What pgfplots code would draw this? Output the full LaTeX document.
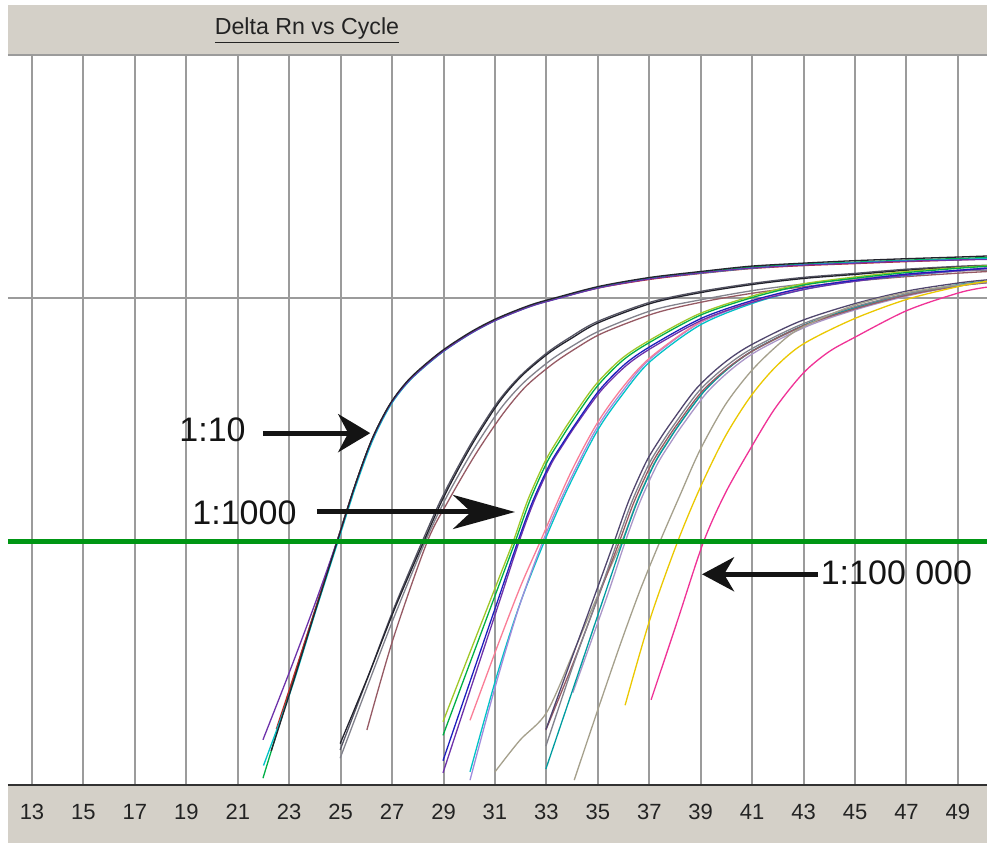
\documentclass[border=0pt]{standalone}
\usepackage{fontspec}
\setmainfont{Liberation Sans}
\usepackage{pgfplots}
\pgfplotsset{compat=1.18}
\usetikzlibrary{arrows.meta}
\definecolor{panel}{RGB}{212,208,200}
\definecolor{gridc}{RGB}{155,155,155}
\definecolor{tickc}{RGB}{35,35,35}
\definecolor{axc}{RGB}{50,50,50}
\definecolor{thr}{RGB}{0,150,20}
\definecolor{arrc}{RGB}{20,20,20}
\definecolor{cgreen}{RGB}{0,175,70}
\definecolor{cblue}{RGB}{30,30,190}
\definecolor{cpurple}{RGB}{110,50,170}
\definecolor{cblack}{RGB}{35,35,45}
\definecolor{cred}{RGB}{190,40,40}
\definecolor{ccyan}{RGB}{0,195,200}
\definecolor{cdgray}{RGB}{85,85,100}
\definecolor{cgray}{RGB}{130,130,140}
\definecolor{cbrown}{RGB}{150,90,100}
\definecolor{clime}{RGB}{160,200,40}
\definecolor{cpink}{RGB}{250,125,150}
\definecolor{clav}{RGB}{160,140,220}
\definecolor{cdpur}{RGB}{80,70,110}
\definecolor{clpur}{RGB}{170,150,200}
\definecolor{cbeige}{RGB}{165,160,140}
\definecolor{cyellow}{RGB}{235,200,0}
\definecolor{cmag}{RGB}{240,50,150}
\begin{document}
\begin{tikzpicture}
\fill[white] (-4pt,-29pt) rectangle (489.5pt,392.5pt);
\fill[panel] (0,-29pt) rectangle (489.5pt,0);
\fill[panel] (0,365pt) rectangle (489.5pt,390pt);
\draw[line width=0.8pt, color=gridc] (0,365pt) -- (489.5pt,365pt);
\begin{axis}[at={(0,0)}, anchor=south west, scale only axis,
  width=489.5pt, height=365pt,
  xmin=12.067, xmax=50.13, ymin=-1, ymax=0.5,
  axis line style={draw=none},
  xtick={13,15,...,49}, ytick={0}, yticklabels={},
  tick style={draw=none},
  grid=major, major grid style={line width=1pt, color=gridc},
  xticklabel style={font=\fontsize{11}{12}\selectfont, text=tickc, anchor=center, yshift=-13.5pt},
  /pgf/number format/assume math mode=true,
  every axis plot/.append style={line width=0.65pt, smooth, no markers},
  clip=true]
% ---- 1:10 group
\addplot[cgreen] coordinates {(21.98,-0.986) (23.03,-0.805) (24.00,-0.641) (24.86,-0.499) (25.56,-0.384) (26.22,-0.290) (26.92,-0.218) (27.70,-0.166) (28.86,-0.113) (30.03,-0.072) (31.08,-0.043) (32.36,-0.016) (33.41,0.000) (35.08,0.023) (37.03,0.041) (38.97,0.053) (40.92,0.064) (42.86,0.070) (44.80,0.074) (46.75,0.078) (49.08,0.082) (50.13,0.084)};
\addplot[cred] coordinates {(22.50,-0.885) (23.03,-0.800) (24.00,-0.641) (24.86,-0.499) (25.56,-0.384) (26.22,-0.290) (26.92,-0.218) (27.70,-0.166) (28.86,-0.113) (30.03,-0.072) (31.08,-0.043) (32.36,-0.016) (33.41,0.000) (35.08,0.022) (37.03,0.039) (38.97,0.051) (40.92,0.061) (42.86,0.067) (44.80,0.071) (46.75,0.075) (49.08,0.079) (50.13,0.081)};
\addplot[ccyan] coordinates {(22.00,-0.960) (23.07,-0.805) (24.04,-0.641) (24.90,-0.499) (25.60,-0.384) (26.26,-0.290) (26.96,-0.218) (27.74,-0.166) (28.90,-0.113) (30.07,-0.072) (31.12,-0.043) (32.40,-0.016) (33.45,0.000) (35.12,0.023) (37.07,0.041) (39.01,0.052) (40.96,0.062) (42.90,0.069) (44.84,0.073) (46.79,0.077) (49.12,0.080) (50.13,0.082)};
\addplot[cpurple] coordinates {(21.98,-0.907) (23.03,-0.765) (24.00,-0.628) (24.86,-0.499) (25.56,-0.385) (26.22,-0.291) (26.92,-0.219) (27.70,-0.167) (28.86,-0.114) (30.03,-0.073) (31.08,-0.044) (32.36,-0.017) (33.41,-0.001) (35.08,0.022) (37.03,0.040) (38.97,0.052) (40.92,0.062) (42.86,0.068) (44.80,0.072) (46.75,0.076) (49.08,0.079) (50.13,0.080)};
\addplot[cblack] coordinates {(22.30,-0.930) (23.03,-0.810) (24.00,-0.645) (24.86,-0.501) (25.56,-0.384) (26.22,-0.289) (26.92,-0.217) (27.70,-0.164) (28.86,-0.111) (30.03,-0.070) (31.08,-0.041) (32.36,-0.014) (33.41,0.002) (35.08,0.025) (37.03,0.043) (38.97,0.055) (40.92,0.066) (42.86,0.072) (44.80,0.077) (46.75,0.081) (49.08,0.085) (50.13,0.087)};
% ---- 1:100 group
\addplot[cgray] coordinates {(24.98,-0.945) (26.02,-0.800) (27.04,-0.660) (28.28,-0.501) (29.10,-0.410) (30.15,-0.312) (31.20,-0.228) (32.10,-0.174) (33.14,-0.128) (34.04,-0.097) (35.10,-0.066) (37.15,-0.024) (39.10,-0.002) (41.15,0.017) (43.10,0.030) (45.00,0.040) (47.10,0.049) (49.10,0.056) (50.13,0.058)};
\addplot[cbrown] coordinates {(26.02,-0.887) (27.04,-0.700) (28.36,-0.501) (29.20,-0.415) (30.25,-0.320) (31.30,-0.238) (32.20,-0.181) (33.24,-0.135) (34.14,-0.103) (35.20,-0.071) (37.25,-0.030) (39.20,-0.006) (41.20,0.012) (43.20,0.025) (45.10,0.036) (47.10,0.045) (49.10,0.052) (50.13,0.055)};
\addplot[cdgray] coordinates {(24.98,-0.928) (26.02,-0.784) (27.04,-0.641) (28.16,-0.501) (28.98,-0.405) (30.03,-0.302) (31.08,-0.215) (31.97,-0.160) (33.02,-0.112) (33.92,-0.080) (34.97,-0.048) (37.03,-0.008) (38.97,0.014) (41.03,0.031) (42.98,0.043) (44.92,0.051) (47.02,0.060) (49.08,0.066) (50.13,0.068)};
\addplot[cblack] coordinates {(24.98,-0.915) (26.08,-0.775) (27.10,-0.638) (28.22,-0.501) (29.04,-0.405) (30.09,-0.302) (31.14,-0.215) (32.03,-0.160) (33.08,-0.113) (33.98,-0.082) (35.03,-0.050) (37.09,-0.010) (39.03,0.012) (41.09,0.029) (43.04,0.041) (44.98,0.049) (47.08,0.058) (49.14,0.064) (50.13,0.066)};
% ---- 1:1000 group
\addplot[ccyan] coordinates {(30.03,-0.973) (31.08,-0.774) (31.97,-0.628) (32.91,-0.501) (33.80,-0.394) (34.97,-0.273) (35.98,-0.196) (37.03,-0.130) (38.97,-0.055) (41.03,-0.010) (42.98,0.018) (44.92,0.035) (47.02,0.047) (49.08,0.057) (50.13,0.062)};
\addplot[clav] coordinates {(30.03,-0.990) (31.00,-0.800) (31.90,-0.640) (32.85,-0.501) (33.75,-0.392) (34.92,-0.270) (35.93,-0.193) (36.98,-0.127) (38.92,-0.052) (41.00,-0.008) (42.95,0.020) (44.90,0.037) (47.00,0.049) (49.05,0.058) (50.13,0.063)};
\addplot[cpink] coordinates {(30.03,-0.867) (31.08,-0.717) (31.97,-0.595) (32.75,-0.501) (33.92,-0.361) (34.97,-0.257) (35.98,-0.182) (37.03,-0.122) (38.97,-0.049) (41.03,-0.006) (42.98,0.021) (44.92,0.037) (47.02,0.049) (49.08,0.057) (50.13,0.062)};
\addplot[clime] coordinates {(28.98,-0.870) (29.95,-0.738) (31.00,-0.596) (31.70,-0.501) (32.28,-0.414) (32.94,-0.336) (33.45,-0.290) (33.95,-0.249) (34.89,-0.179) (35.90,-0.125) (36.95,-0.088) (38.89,-0.033) (40.95,0.004) (42.90,0.029) (44.85,0.043) (46.95,0.055) (49.00,0.063) (50.13,0.067)};
\addplot[cgreen] coordinates {(28.98,-0.898) (30.03,-0.749) (31.08,-0.600) (31.78,-0.501) (32.36,-0.415) (33.02,-0.337) (33.53,-0.292) (34.03,-0.251) (34.97,-0.181) (35.98,-0.127) (37.03,-0.090) (38.97,-0.035) (41.03,0.002) (42.98,0.027) (44.92,0.041) (47.02,0.053) (49.08,0.062) (50.13,0.066)};
\addplot[cpurple] coordinates {(28.98,-0.975) (30.18,-0.782) (31.23,-0.614) (31.93,-0.501) (32.51,-0.418) (33.17,-0.342) (33.68,-0.298) (34.18,-0.258) (35.12,-0.190) (36.13,-0.137) (37.18,-0.099) (39.12,-0.043) (41.15,-0.006) (43.10,0.019) (45.00,0.035) (47.10,0.048) (49.10,0.057) (50.13,0.061)};
\addplot[cblue] coordinates {(28.98,-0.950) (30.13,-0.772) (31.18,-0.610) (31.88,-0.501) (32.46,-0.418) (33.12,-0.342) (33.63,-0.298) (34.13,-0.258) (35.07,-0.188) (36.08,-0.134) (37.13,-0.096) (39.07,-0.040) (41.10,-0.003) (43.05,0.022) (44.98,0.037) (47.05,0.050) (49.10,0.058) (50.13,0.062)};
% ---- 1:10 000 group
\addplot[cbeige] coordinates {(31.00,-0.973) (31.97,-0.908) (33.02,-0.850) (34.11,-0.720) (35.08,-0.600) (35.94,-0.499) (36.52,-0.417) (37.18,-0.340) (37.69,-0.296) (38.19,-0.257) (39.13,-0.191) (40.14,-0.141) (41.20,-0.103) (43.15,-0.054) (45.20,-0.018) (47.20,0.009) (49.10,0.027) (50.13,0.033)};
\addplot[clpur] coordinates {(34.03,-0.810) (35.36,-0.612) (36.06,-0.501) (36.64,-0.418) (37.30,-0.342) (37.81,-0.298) (38.31,-0.259) (39.25,-0.193) (40.26,-0.143) (41.30,-0.105) (43.25,-0.055) (45.30,-0.019) (47.30,0.008) (49.10,0.026) (50.13,0.032)};
\addplot[ccyan!80!black] coordinates {(32.98,-0.967) (34.21,-0.775) (35.26,-0.610) (35.96,-0.501) (36.54,-0.417) (37.20,-0.340) (37.71,-0.296) (38.21,-0.256) (39.15,-0.190) (40.16,-0.140) (41.20,-0.102) (43.15,-0.052) (45.20,-0.016) (47.20,0.011) (49.10,0.029) (50.13,0.035)};
\addplot[cbrown] coordinates {(32.98,-0.887) (34.08,-0.744) (35.13,-0.598) (35.83,-0.501) (36.41,-0.418) (37.07,-0.342) (37.58,-0.298) (38.08,-0.259) (39.02,-0.193) (40.03,-0.144) (41.08,-0.106) (43.00,-0.056) (45.10,-0.020) (47.15,0.008) (49.10,0.026) (50.13,0.032)};
\addplot[cgray] coordinates {(32.98,-0.920) (34.00,-0.760) (35.05,-0.607) (35.75,-0.501) (36.33,-0.417) (36.99,-0.340) (37.50,-0.296) (38.00,-0.257) (38.94,-0.190) (39.95,-0.141) (41.00,-0.103) (42.94,-0.053) (45.00,-0.017) (47.10,0.010) (49.10,0.027) (50.13,0.033)};
\addplot[cdpur] coordinates {(32.98,-0.886) (33.88,-0.755) (34.93,-0.603) (35.63,-0.501) (36.21,-0.415) (36.87,-0.337) (37.38,-0.292) (37.88,-0.253) (38.82,-0.186) (39.83,-0.136) (40.88,-0.098) (42.82,-0.048) (44.92,-0.012) (47.02,0.015) (49.08,0.032) (50.13,0.038)};
% ---- 1:100 000 group
\addplot[cbeige] coordinates {(34.08,-0.990) (34.97,-0.850) (35.86,-0.713) (36.64,-0.600) (37.42,-0.499) (38.19,-0.405) (38.97,-0.312) (39.94,-0.220) (40.92,-0.152) (41.89,-0.101) (42.86,-0.062) (44.92,-0.015) (47.02,0.012) (49.08,0.028) (50.13,0.034)};
\addplot[cyellow] coordinates {(36.06,-0.836) (37.03,-0.659) (38.08,-0.503) (38.97,-0.390) (39.94,-0.285) (40.92,-0.203) (41.89,-0.142) (42.98,-0.094) (44.92,-0.043) (47.02,-0.002) (49.08,0.025) (50.13,0.035)};
\addplot[cmag] coordinates {(37.07,-0.825) (38.08,-0.665) (39.09,-0.503) (39.94,-0.402) (40.92,-0.310) (41.89,-0.226) (42.98,-0.154) (43.95,-0.111) (44.92,-0.082) (47.02,-0.025) (49.08,0.012) (50.13,0.023)};
% ---- threshold
\addplot[thr, line width=2.8pt, sharp plot] coordinates {(12.067,-0.5) (50.13,-0.5)};
% ---- annotations
\draw[arrc, line width=2.5pt, -{Stealth[length=16pt,width=19pt,inset=5pt]}] (axis cs:21.98,-0.277) -- (axis cs:26.15,-0.277);
\draw[arrc, line width=2.5pt, -{Stealth[length=31pt,width=17pt,inset=9pt]}] (axis cs:24.08,-0.439) -- (axis cs:31.78,-0.439);
\draw[arrc, line width=2.5pt, -{Stealth[length=16pt,width=17pt,inset=5pt]}] (axis cs:43.56,-0.567) -- (axis cs:39.05,-0.567);
\node[font=\fontsize{17}{20}\selectfont, text=arrc, inner sep=0pt] at (axis cs:20.02,-0.271) {1:10};
\node[font=\fontsize{17}{20}\selectfont, text=arrc, inner sep=0pt] at (axis cs:21.26,-0.441) {1:1000};
\node[font=\fontsize{17}{20}\selectfont, text=arrc, inner sep=0pt] at (axis cs:46.61,-0.563) {1:100 000};
\end{axis}
\draw[line width=1pt, color=axc] (0,0) -- (489.5pt,0);
\node[font=\fontsize{11.6}{13}\selectfont, text=tickc, inner sep=0pt] at (149.5pt,377pt) {\underline{Delta Rn vs Cycle}};
\pgfresetboundingbox
\path[use as bounding box] (-4pt,-29pt) rectangle (489.5pt,392.5pt);
\end{tikzpicture}
\end{document}
